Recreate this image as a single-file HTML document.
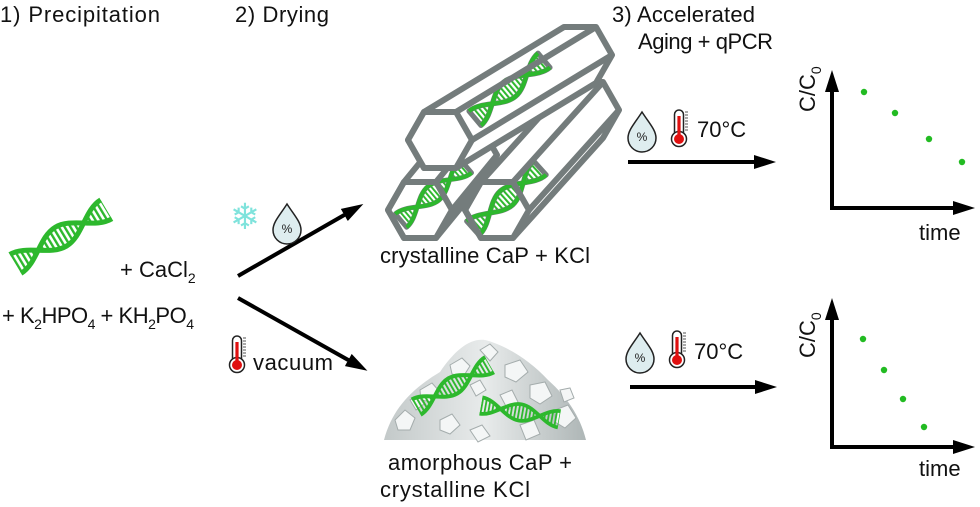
<!DOCTYPE html>
<html><head><meta charset="utf-8"><style>
html,body{margin:0;padding:0;background:#fff;}
svg{display:block;font-family:"Liberation Sans",sans-serif;}
</style></head><body>
<svg width="980" height="507" viewBox="0 0 980 507" xmlns="http://www.w3.org/2000/svg">
<defs>
<pattern id="st" width="5" height="10" patternUnits="userSpaceOnUse"><rect x="0" y="0" width="2.4" height="10" fill="#2db82d"/></pattern>
<symbol id="dna" viewBox="-4 -16 114 32" overflow="visible">
<path d="M0 11 C19 11 34 -11 53 -11 S87 11 106 11 L106 -11 C87 -11 72 11 53 11 S19 -11 0 -11 Z" fill="url(#st)" fill-rule="evenodd"/>
<path d="M0 11 C19 11 34 -11 53 -11 S87 11 106 11" fill="none" stroke="#2db82d" stroke-width="5"/>
<path d="M0 -11 C19 -11 34 11 53 11 S87 -11 106 -11" fill="none" stroke="#2db82d" stroke-width="5"/>
</symbol>
<g id="drop"><path d="M0 -19 C7 -8 14 -1 14 7 A14 14 0 0 1 -14 7 C-14 -1 -7 -8 0 -19 Z" fill="#deedef" stroke="#222" stroke-width="1.5"/><text x="0" y="10" font-size="12" text-anchor="middle" fill="#222">%</text></g>
<g id="therm"><rect x="-4.5" y="-19" width="9" height="27" rx="4.5" fill="#fff" stroke="#222" stroke-width="1.5"/><circle cx="0" cy="10" r="7.5" fill="#fff" stroke="#222" stroke-width="1.5"/><rect x="-1.6" y="-13" width="3.2" height="21" fill="#e01010"/><circle cx="0" cy="10" r="5" fill="#e01010"/><path d="M6 -17h3M6 -14h3M6 -11h3M6 -8h3M6 -5h3M6 -2h3M6 1h3" stroke="#555" stroke-width="1"/></g>
<marker id="ah" markerWidth="22" markerHeight="14" refX="2" refY="7" orient="auto" markerUnits="userSpaceOnUse"><path d="M0 0 L22 7 L0 14 Z" fill="#000"/></marker>
<linearGradient id="pg" x1="0" y1="0" x2="1" y2="0"><stop offset="0" stop-color="#c3c9c9"/><stop offset="0.5" stop-color="#e8ebeb"/><stop offset="1" stop-color="#aeb6b6"/></linearGradient>
</defs>

<text x="0" y="22" font-size="22" fill="#111" textLength="160">1) Precipitation</text>
<text x="235" y="22" font-size="22" fill="#111" textLength="94">2) Drying</text>
<text x="612" y="22" font-size="22" fill="#111" textLength="143">3) Accelerated</text>
<text x="638" y="49" font-size="22" fill="#111" textLength="135">Aging + qPCR</text>

<use href="#dna" width="114" height="32" transform="translate(12,266) rotate(-31) translate(0,-16)"/>
<text x="120" y="277" font-size="22" fill="#111">+ CaCl<tspan font-size="14" dy="6">2</tspan></text>
<text x="2" y="323" font-size="22" fill="#111" textLength="192">+ K<tspan font-size="14" dy="6">2</tspan><tspan dy="-6">HPO</tspan><tspan font-size="14" dy="6">4</tspan><tspan dy="-6"> + KH</tspan><tspan font-size="14" dy="6">2</tspan><tspan dy="-6">PO</tspan><tspan font-size="14" dy="6">4</tspan></text>

<line x1="238" y1="276" x2="346" y2="214" stroke="#000" stroke-width="4" marker-end="url(#ah)"/>
<line x1="238" y1="298" x2="350" y2="361" stroke="#000" stroke-width="4" marker-end="url(#ah)"/>
<text x="245" y="229" font-size="36" fill="#7fe3dc" text-anchor="middle">❄</text>
<use href="#drop" transform="translate(287,223)"/>
<use href="#therm" transform="translate(237,355)"/>
<text x="253" y="370" font-size="22" fill="#111" textLength="80">vacuum</text>

<g stroke="#747c7c" stroke-width="6" stroke-linejoin="round" fill="#fff">
<polygon points="404,182 449,127 481,127 497,155 481,183 436,238 404,238 388,210"/>
<use href="#dna" width="114" height="32" transform="translate(398,222) rotate(-40) translate(0,-12) scale(0.8)"/>
<path d="M436,182 L481,127 M452,210 L497,155" fill="none"/>
<polygon points="452,210 436,182 404,182 388,210 404,238 436,238" fill="none"/>
<polygon points="481,182 571,82 603,82 619,110 603,138 513,238 481,238 465,210"/>
<use href="#dna" width="114" height="32" transform="translate(470,230) rotate(-42) translate(0,-13) scale(0.85)"/>
<path d="M513,182 L603,82 M529,210 L619,110" fill="none"/>
<polygon points="529,210 513,182 481,182 465,210 481,238 513,238" fill="none"/>
<polygon points="424,112 564,27 596,27 612,55 596,83 456,168 424,168 408,140"/>
<use href="#dna" width="114" height="32" transform="translate(472,120) rotate(-40) translate(0,-13) scale(0.85)"/>
<path d="M456,112 L596,27 M472,140 L612,55" fill="none"/>
<polygon points="472,140 456,112 424,112 408,140 424,168 456,168"/>
</g>
<text x="380" y="263" font-size="22" fill="#111" textLength="210">crystalline CaP + KCl</text>

<path d="M384,440 C392,410 410,390 440,372 C455,350 470,338 485,340 C505,345 530,360 548,380 C565,395 580,415 586,440 Z" fill="url(#pg)"/>
<g fill="#f4f6f6" stroke="#a4acac" stroke-width="1">
<polygon points="395,420 405,410 415,418 410,430 398,430"/>
<polygon points="420,390 432,383 440,392 432,402 421,400"/>
<polygon points="450,365 462,358 470,366 463,377 452,374"/>
<polygon points="480,350 490,344 498,352 490,361"/>
<polygon points="505,365 520,360 528,372 516,382 505,377"/>
<polygon points="530,385 545,382 552,396 540,404 530,398"/>
<polygon points="555,410 568,405 576,418 565,428 555,422"/>
<polygon points="440,420 452,414 460,425 450,434 440,430"/>
<polygon points="500,395 512,390 518,402 508,410"/>
<polygon points="470,430 482,425 490,436 478,442"/>
<polygon points="520,425 534,420 540,434 526,440"/>
<polygon points="410,400 418,396 424,404 416,410"/>
<polygon points="560,390 570,388 574,398 564,402"/>
<polygon points="470,385 480,380 486,390 476,396"/>
</g>
<use href="#dna" width="114" height="32" transform="translate(413,408) rotate(-30) translate(0,-12) scale(0.8)"/>
<use href="#dna" width="114" height="32" transform="translate(478,405) rotate(10) translate(0,-12) scale(0.75)"/>
<text x="388" y="470" font-size="22" fill="#111" textLength="184">amorphous CaP +</text>
<text x="380" y="497" font-size="22" fill="#111" textLength="150">crystalline KCl</text>

<use href="#drop" transform="translate(642,131)"/>
<use href="#therm" transform="translate(679,129)"/>
<text x="697" y="137" font-size="22" fill="#111">70°C</text>
<line x1="628" y1="162" x2="756" y2="162" stroke="#000" stroke-width="4" marker-end="url(#ah)"/>
<line x1="832" y1="210" x2="832" y2="90" stroke="#000" stroke-width="4" marker-end="url(#ah)"/>
<line x1="830" y1="208" x2="955" y2="208" stroke="#000" stroke-width="4" marker-end="url(#ah)"/>
<text transform="translate(815,112) rotate(-90)" font-size="22" fill="#111">C/C<tspan font-size="14" dy="6">0</tspan></text>
<g fill="#22bb22"><circle cx="864" cy="92" r="3.2"/><circle cx="895" cy="113" r="3.2"/><circle cx="929" cy="139" r="3.2"/><circle cx="962" cy="162" r="3.2"/></g>
<text x="919" y="240" font-size="22" fill="#111">time</text>

<use href="#drop" transform="translate(640,352)"/>
<use href="#therm" transform="translate(677,350)"/>
<text x="694" y="359" font-size="22" fill="#111">70°C</text>
<line x1="630" y1="387" x2="757" y2="387" stroke="#000" stroke-width="4" marker-end="url(#ah)"/>
<line x1="832" y1="449" x2="832" y2="318" stroke="#000" stroke-width="4" marker-end="url(#ah)"/>
<line x1="830" y1="447" x2="955" y2="447" stroke="#000" stroke-width="4" marker-end="url(#ah)"/>
<text transform="translate(815,358) rotate(-90)" font-size="22" fill="#111">C/C<tspan font-size="14" dy="6">0</tspan></text>
<g fill="#22bb22"><circle cx="863" cy="339" r="3.2"/><circle cx="884" cy="370" r="3.2"/><circle cx="903" cy="399" r="3.2"/><circle cx="924" cy="427" r="3.2"/></g>
<text x="919" y="476" font-size="22" fill="#111">time</text>
</svg>
</body></html>
